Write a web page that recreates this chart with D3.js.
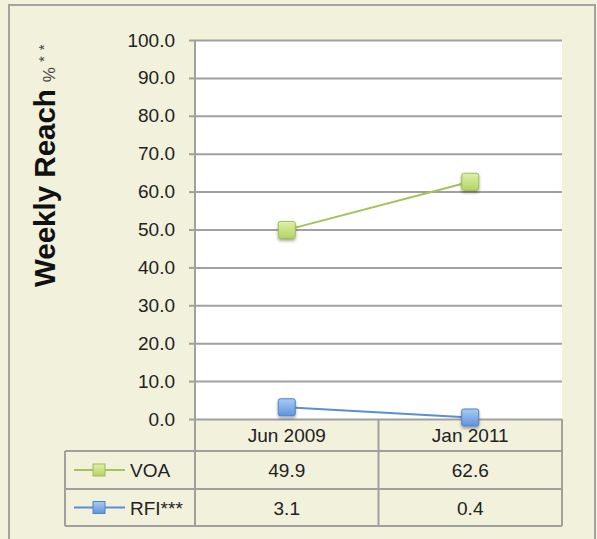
<!DOCTYPE html>
<html>
<head>
<meta charset="utf-8">
<script src="https://cdn.jsdelivr.net/npm/d3@7"></script>
<style>
  html, body { margin: 0; padding: 0; background: #f1f1dc; }
  svg { display: block; font-family: "Liberation Sans", Arial, sans-serif; }
</style>
</head>
<body>
<div id="chart"></div>
<script>
const width = 597;
const height = 539;

// chart data
const periods = ["Jun 2009", "Jan 2011"];
const voaValues = [49.9, 62.6];
const rfiValues = [3.1, 0.4];
const seriesNames = ["VOA", "RFI***"];
const yTicks = [0, 10, 20, 30, 40, 50, 60, 70, 80, 90, 100];

const series = [
  { name: seriesNames[0], values: voaValues, line: "#a3c257", fillTop: "#dff0a8", fillBottom: "#b3d466", stroke: "#9dbd55" },
  { name: seriesNames[1], values: rfiValues, line: "#5a8fd2", fillTop: "#a9cbf3", fillBottom: "#5f95dc", stroke: "#4f82c8" },
];

const plot = { left: 195, right: 562, top: 40, bottom: 419 };
const rowH = [32, 38, 37]; // header row, VOA row, RFI row
const tableLeft = 65;
const font = "'Liberation Sans', Arial, sans-serif";

const svg = d3.select("#chart")
  .append("svg")
  .attr("width", width)
  .attr("height", height);

const defs = svg.append("defs");
series.forEach((s, i) => {
  const g = defs.append("linearGradient")
    .attr("id", "grad" + i)
    .attr("x1", 0).attr("y1", 0).attr("x2", 0).attr("y2", 1);
  g.append("stop").attr("offset", "0%").attr("stop-color", s.fillTop);
  g.append("stop").attr("offset", "100%").attr("stop-color", s.fillBottom);
});
const shadow = defs.append("filter").attr("id", "shadow")
  .attr("x", "-50%").attr("y", "-50%").attr("width", "200%").attr("height", "200%");
shadow.append("feDropShadow")
  .attr("dx", 0).attr("dy", 2).attr("stdDeviation", 1.8)
  .attr("flood-color", "#000").attr("flood-opacity", 0.35);

// outer frame
svg.append("rect")
  .attr("x", 9).attr("y", 5)
  .attr("width", 586).attr("height", 560)
  .attr("fill", "#f1f1dc")
  .attr("stroke", "#a3a3a3")
  .attr("stroke-width", 2);

// scales
const x = d3.scaleBand().domain(periods).range([plot.left, plot.right]);
const y = d3.scaleLinear().domain([0, 100]).range([plot.bottom, plot.top]);

// plot background
svg.append("rect")
  .attr("x", plot.left).attr("y", plot.top)
  .attr("width", plot.right - plot.left)
  .attr("height", plot.bottom - plot.top)
  .attr("fill", "#ffffff");

// gridlines
svg.append("g")
  .attr("transform", `translate(${plot.left},0)`)
  .call(d3.axisLeft(y).tickValues(yTicks).tickFormat("").tickSize(-(plot.right - plot.left)).tickSizeOuter(0))
  .call(g => g.select(".domain").remove())
  .call(g => g.selectAll("line").attr("stroke", "#a0a0a0").attr("stroke-width", 2));

// y axis with tick labels
svg.append("g")
  .attr("transform", `translate(${plot.left},0)`)
  .call(d3.axisLeft(y).tickValues(yTicks).tickFormat(d => d.toFixed(1)).tickSize(6).tickSizeOuter(0).tickPadding(14))
  .call(g => g.select(".domain").remove())
  .call(g => g.selectAll("line").attr("stroke", "#a0a0a0").attr("stroke-width", 2))
  .call(g => g.selectAll("text")
    .attr("fill", "#222")
    .style("font-size", "19px")
    .style("font-family", font));

// vertical axis line, continuing down as table divider
const tableTop = plot.bottom;
const tableBottom = tableTop + d3.sum(rowH);
svg.append("line")
  .attr("x1", plot.left).attr("x2", plot.left)
  .attr("y1", plot.top).attr("y2", tableBottom)
  .attr("stroke", "#a0a0a0").attr("stroke-width", 2);

// y axis title
const title = svg.append("text")
  .attr("transform", "translate(55,287) rotate(-90)")
  .attr("fill", "#111");
title.append("tspan")
  .attr("font-weight", "bold")
  .attr("font-size", "29.5px")
  .text("Weekly Reach");
title.append("tspan")
  .attr("font-size", "17px")
  .attr("dx", 7)
  .attr("fill", "#444")
  .text("%");
title.append("tspan")
  .attr("font-size", "15px")
  .attr("dx", 5)
  .attr("dy", -6)
  .attr("fill", "#444")
  .attr("letter-spacing", "6px")
  .text("**");

// series lines and markers
const line = d3.line()
  .x((d, i) => x(periods[i]) + x.bandwidth() / 2)
  .y(d => y(d));

series.forEach((s, i) => {
  svg.append("path")
    .datum(s.values)
    .attr("fill", "none")
    .attr("stroke", s.line)
    .attr("stroke-width", 2)
    .attr("d", line);

  const m = 17;
  svg.append("g")
    .selectAll("rect")
    .data(s.values)
    .join("rect")
    .attr("x", (d, j) => x(periods[j]) + x.bandwidth() / 2 - m / 2)
    .attr("y", d => y(d) - m / 2)
    .attr("width", m).attr("height", m)
    .attr("rx", 2)
    .attr("fill", `url(#grad${i})`)
    .attr("stroke", s.stroke)
    .attr("stroke-width", 1)
    .attr("filter", "url(#shadow)");
});

// data table
const table = svg.append("g").attr("class", "data-table");
const rowY = [tableTop, tableTop + rowH[0], tableTop + rowH[0] + rowH[1], tableBottom];

function hLine(x1, x2, yy) {
  table.append("line")
    .attr("x1", x1).attr("x2", x2).attr("y1", yy).attr("y2", yy)
    .attr("stroke", "#a0a0a0").attr("stroke-width", 2);
}
function vLine(xx, y1, y2) {
  table.append("line")
    .attr("x1", xx).attr("x2", xx).attr("y1", y1).attr("y2", y2)
    .attr("stroke", "#a0a0a0").attr("stroke-width", 2);
}

hLine(tableLeft, plot.right, rowY[1]);
hLine(tableLeft, plot.right, rowY[2]);
hLine(tableLeft, plot.right, rowY[3]);
vLine(tableLeft, rowY[1], rowY[3]);
vLine(plot.right, rowY[0], rowY[3]);
periods.slice(1).forEach(p => vLine(x(p), rowY[0], rowY[3]));

// header texts
table.selectAll(".hdr")
  .data(periods)
  .join("text")
  .attr("x", d => x(d) + x.bandwidth() / 2)
  .attr("y", rowY[0] + rowH[0] / 2 + 7)
  .attr("text-anchor", "middle")
  .attr("font-size", "19px")
  .attr("fill", "#222")
  .text(d => d);

// series rows
series.forEach((s, i) => {
  const cy = rowY[i + 1] + rowH[i + 1] / 2;
  table.append("line")
    .attr("x1", 74).attr("x2", 125).attr("y1", cy).attr("y2", cy)
    .attr("stroke", s.line).attr("stroke-width", 2);
  table.append("rect")
    .attr("x", 93).attr("y", cy - 6)
    .attr("width", 12).attr("height", 12)
    .attr("fill", `url(#grad${i})`)
    .attr("stroke", s.stroke);
  table.append("text")
    .attr("x", 130).attr("y", cy + 7)
    .attr("font-size", "19px")
    .attr("fill", "#222")
    .text(s.name);
  table.selectAll(".val" + i)
    .data(s.values)
    .join("text")
    .attr("x", (d, j) => x(periods[j]) + x.bandwidth() / 2)
    .attr("y", cy + 7)
    .attr("text-anchor", "middle")
    .attr("font-size", "19px")
    .attr("fill", "#222")
    .text(d => d.toFixed(1));
});
</script>
</body>
</html>
